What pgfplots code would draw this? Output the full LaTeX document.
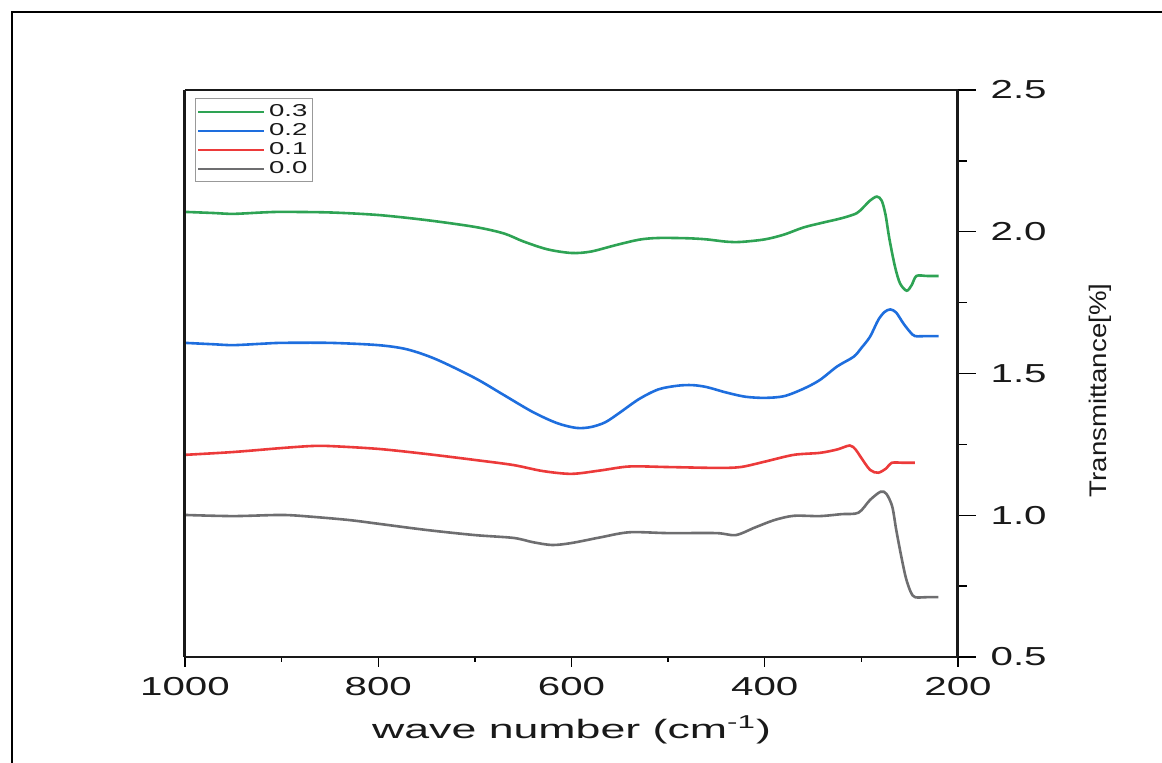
\documentclass[border=0pt]{standalone}
\usepackage{fontspec}
\setmainfont{Liberation Sans}
\newfontfamily\tickfont{Liberation Sans}[FakeStretch=1.55]
\newfontfamily\labfont{Liberation Sans}[FakeStretch=1.68]
\newfontfamily\legfont{Liberation Sans}[FakeStretch=1.6]
\newfontfamily\ylabfont{Liberation Sans}[FakeStretch=1.15]
\usepackage{pgfplots}
\pgfplotsset{compat=1.18}

\definecolor{cgreen}{RGB}{46,163,84}
\definecolor{cblue}{RGB}{30,110,222}
\definecolor{cred}{RGB}{236,58,58}
\definecolor{cgray}{RGB}{110,110,112}

\begin{document}
\begin{tikzpicture}
\useasboundingbox (-92.5pt,-53pt) rectangle (488.5pt,328.5pt);
% outer frame (only top and left are visible)
\draw[line width=0.75pt] (-86.5pt,-53pt) -- (-86.5pt,322.5pt) -- (488.5pt,322.5pt);
\begin{axis}[
    at={(0pt,0pt)}, anchor=south west,
    scale only axis,
    width=386.5pt, height=283.5pt,
    x dir=reverse,
    xmin=200, xmax=1000,
    ymin=0.5, ymax=2.5,
    clip=false,
    axis line style={draw=none},
    xtick={200,400,600,800,1000},
    ytick={0.5,1,1.5,2,2.5},
    minor x tick num=1,
    minor y tick num=1,
    xtick pos=bottom,
    ytick pos=right,
    yticklabel pos=right,
    tick align=outside,
    xtick style={black, line width=0.7pt, /pgfplots/major tick length=5pt, /pgfplots/minor tick length=2.5pt},
    ytick style={black, line width=0.7pt, /pgfplots/major tick length=9pt, /pgfplots/minor tick length=4.5pt},
    /pgf/number format/assume math mode=true,
    /pgf/number format/1000 sep={},
    x tick label style={font=\tickfont\fontsize{13}{15}\selectfont, text=black!90, yshift=-2.5pt},
    y tick label style={font=\tickfont\fontsize{13}{15}\selectfont, text=black!90, xshift=8.5pt,
        /pgf/number format/.cd, fixed, fixed zerofill, precision=1},
    xlabel={wave number (cm\textsuperscript{-1})},
    xlabel style={font=\labfont\fontsize{13.3}{15}\selectfont, text=black!90,
        at={(axis description cs:0.5,0)}, anchor=base, yshift=-41pt},
    ylabel={Transmittance[\%]},
    ylabel style={font=\ylabfont\fontsize{12}{14}\selectfont, text=black!90,
        at={(axis description cs:1.184,0.47)}, anchor=center},
    legend cell align=left,
    legend style={at={(axis description cs:0.0129,0.986)}, anchor=north west,
        draw=gray!80, line width=0.5pt, inner sep=0.8pt, row sep=-2pt,
        font=\legfont\fontsize{8.6}{9}\selectfont, text=black!90},
    legend image code/.code={\draw[#1, line width=1pt] (0pt,0pt) -- (33pt,0pt);},
    every axis plot/.append style={line width=1.3pt, smooth, tension=0.5},
]
\addplot[color=cgreen] coordinates {
(1000,2.070) (970,2.066) (950,2.063) (920,2.068) (900,2.070) (850,2.068)
(800,2.059) (750,2.041) (700,2.017) (670,1.994) (650,1.966) (625,1.938)
(600,1.925) (580,1.930) (555,1.952) (530,1.972) (510,1.978) (480,1.977)
(460,1.973) (440,1.965) (425,1.964) (400,1.973) (380,1.990) (360,2.015)
(340,2.032) (320,2.048) (305,2.065) (298,2.086) (291,2.110) (284,2.124)
(279,2.110) (275,2.060) (271,1.975) (265.2,1.877) (260,1.818) (253.1,1.792)
(247.9,1.812) (243,1.844) (232,1.844) (220,1.844)
};
\addplot[color=cblue] coordinates {
(1000,1.608) (970,1.603) (950,1.600) (920,1.605) (900,1.608) (850,1.608)
(800,1.600) (770,1.585) (740,1.550) (700,1.484) (670,1.424) (640,1.364)
(615,1.325) (595,1.308) (580,1.311) (565,1.328) (550,1.362) (530,1.410)
(510,1.444) (490,1.457) (475,1.459) (460,1.452) (440,1.433) (420,1.418)
(400,1.414) (380,1.420) (360,1.446) (343,1.477) (325,1.525) (308,1.559)
(300,1.590) (291,1.630) (282.5,1.689) (276,1.717) (270,1.726) (264,1.715)
(256.6,1.677) (249.7,1.647) (244.5,1.632) (232,1.632) (220,1.632)
};
\addplot[color=cred] coordinates {
(1000,1.213) (950,1.223) (900,1.237) (870,1.244) (850,1.244) (800,1.234)
(750,1.216) (700,1.195) (660,1.177) (630,1.156) (600,1.146) (570,1.158)
(540,1.172) (500,1.170) (450,1.167) (425,1.170) (400,1.189) (370,1.213)
(343,1.220) (325,1.232) (312,1.246) (306,1.232) (301,1.207) (291,1.160)
(282.5,1.150) (274,1.166) (268.6,1.185) (256,1.185) (244.5,1.185)
};
\addplot[color=cgray] coordinates {
(1000,1.001) (950,0.997) (900,1.001) (870,0.995) (830,0.983) (800,0.970)
(750,0.948) (700,0.930) (660,0.920) (640,0.905) (620,0.895) (600,0.902)
(570,0.922) (540,0.940) (500,0.937) (450,0.937) (430,0.930) (410,0.957)
(390,0.983) (370,0.998) (343,0.997) (320,1.004) (303,1.009) (291,1.054)
(280,1.083) (274,1.075) (268,1.030) (264,0.950) (259,0.860) (254,0.780)
(249,0.730) (244.5,0.711) (232,0.711) (220.4,0.711)
};
\legend{0.3,0.2,0.1,0.0}
% axis frame: thick left/right spines, thin top/bottom
\draw[line width=1.5pt, black!90] (rel axis cs:0,0) -- (rel axis cs:0,1);
\draw[line width=1.5pt, black!90] (rel axis cs:1,0) -- (rel axis cs:1,1);
\draw[line width=0.7pt, black!90] (rel axis cs:0,1) -- (rel axis cs:1,1);
\draw[line width=0.85pt, black!90] (rel axis cs:0,0) -- (rel axis cs:1,0);
\end{axis}
\end{tikzpicture}
\end{document}
